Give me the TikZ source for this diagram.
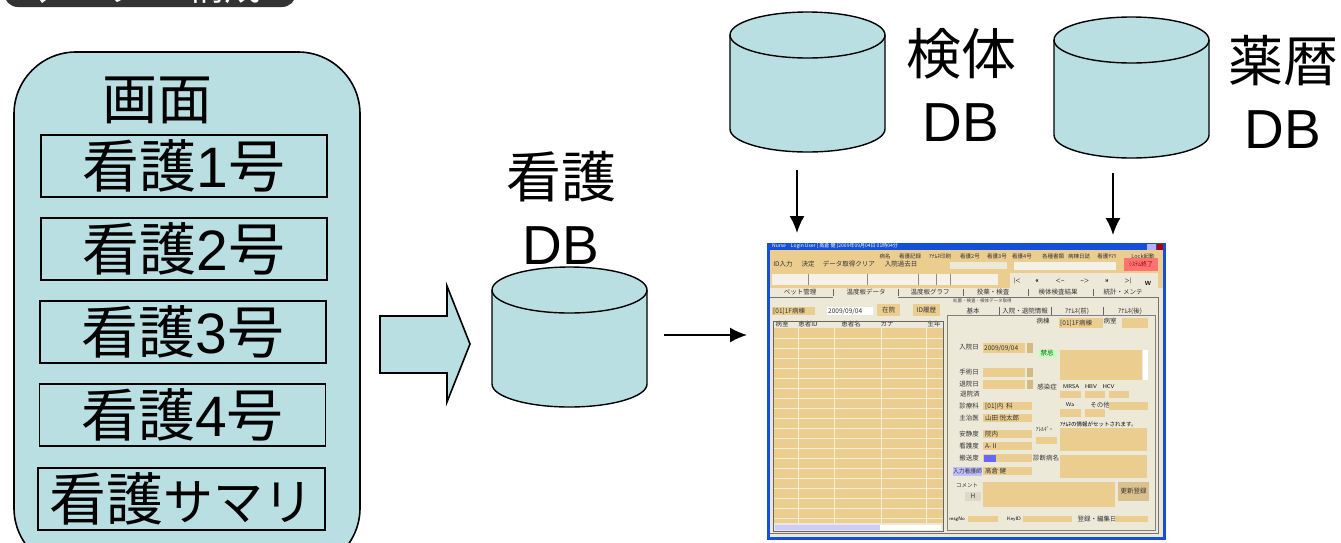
\documentclass[tikz,border=0pt]{standalone}
\usepackage{fontspec}
\usetikzlibrary{arrows.meta}
\setmainfont{Liberation Sans}
\newfontfamily\cjk{Noto Sans CJK JP}
\definecolor{fillc}{HTML}{B9DFE3}
\definecolor{tanc}{HTML}{EBCD90}
\definecolor{panel}{HTML}{ECE9D8}
\definecolor{xpblue}{HTML}{1450D8}
\newcommand{\K}[1]{{\cjk #1}}
\tikzset{
 lbl/.style={font=\fontsize{55}{67}\selectfont,inner sep=0pt,anchor=center,align=center},
 scr/.style={draw=black,line width=1.6pt,fill=fillc,inner sep=0pt,font=\fontsize{57}{60}\selectfont,text height=42pt,text depth=0pt},
 thinl/.style={draw=black,line width=1.4pt},
 arr/.style={draw=black,line width=1.8pt,-{Latex[length=17pt,width=15pt]}},
 tinyt/.style={font=\cjk\fontsize{6.5}{7}\selectfont,inner sep=0pt,text=black!80},
 tinye/.style={tinyt,anchor=east},
 tinyw/.style={tinyt,anchor=west},
}
\newcommand{\dbcyl}[5]{%
 \fill[fillc] (#2-#4,#3+23) arc[start angle=180,end angle=360,x radius=#4,y radius=23] -- (#2+#4,#5-23) arc[start angle=0,end angle=180,x radius=#4,y radius=23] -- cycle;
 \draw[thinl] (#2,#3+23) ellipse[x radius=#4,y radius=23];
 \draw[thinl] (#2-#4,#3+23) -- (#2-#4,#5-23) arc[start angle=180,end angle=0,x radius=#4,y radius=23] -- (#2+#4,#3+23);
}
\newcommand{\tb}[4]{\fill[tanc] (#1,#2) rectangle (#3,#4);}
\begin{document}
\begin{tikzpicture}[x=1pt,y=-1pt]
\useasboundingbox (0,0) rectangle (1341,542);
\begin{scope}
\clip (0,0) rectangle (1341,542);
% top pill with cut-off title
\fill[black!80,rounded corners=14pt] (4,-30) rectangle (296,7);
\node[font=\cjk\fontsize{37}{40}\selectfont,text=white,inner sep=0pt,anchor=base west] (title) at (187,0.5) {構成};
\fill[white] (40,0) -- (46,0) -- (42,3) -- cycle;
\fill[white] (115,0) -- (121,0) -- (117,2) -- cycle;
% big panel
\draw[fill=fillc,line width=1.6pt,rounded corners=62pt] (14,52) rectangle (360,570);
\end{scope}
\node[lbl,font=\cjk\fontsize{55}{60}\selectfont] (t0) at (157,100) {画面};
\node[scr,minimum width=286pt,minimum height=62pt] (n1) at (184,166) {\K{看護}1\K{号}};
\node[scr,minimum width=286pt,minimum height=62pt] (n2) at (184,249) {\K{看護}2\K{号}};
\node[scr,minimum width=286pt,minimum height=62pt] (n3) at (183,332) {\K{看護}3\K{号}};
\node[scr,minimum width=286pt,minimum height=62pt] (n4) at (182.5,415) {\K{看護}4\K{号}};
\node[scr,minimum width=287pt,minimum height=62pt] (n5) at (181.5,499) {\K{看護{\fontsize{50}{50}\selectfont サマリ}}};
% block arrow
\draw[fill=fillc,line width=1.6pt,line join=miter] (380,316) -- (447,316) -- (447,286) -- (470,344) -- (447,402) -- (447,373) -- (380,373) -- cycle;
% DBs
\dbcyl{dbk}{569.5}{267}{77.5}{407}
\dbcyl{dbs}{807.5}{12}{77.5}{152}
\dbcyl{dby}{1131.5}{17}{77.5}{158}
\node[lbl] (lk) at (561,208) {\K{看護}\\DB};
\node[lbl] (ls) at (961,85) {\K{検体}\\DB};
\node[lbl] (ly) at (1283,92) {\K{薬暦}\\DB};
% ---- screenshot ----
\fill[xpblue] (767,243) rectangle (1166,540);
\fill[panel] (770,250) rectangle (1163,537);
\node[font=\cjk\fontsize{5}{6}\selectfont,text=white,inner sep=0pt,anchor=west] (tb) at (772,246.5) {Nurse\quad Login User [ 高倉 健 ]2009年09月04日 01時04分};
\fill[white!70!blue] (1147,244) rectangle (1156,250);
\fill[red!70!black] (1157,244) rectangle (1163,250);
\tb{770}{250}{1163}{288}
\fill[panel] (1010,273) rectangle (1158,288);
\foreach \x/\t in {783/ID入力,808/決定,839/データ取得,865/クリア,901/入院過去日}
  \node[tinyt] at (\x,264) {\t};
\foreach \x/\t in {885/病名,910/看護記録,940/ｱﾅﾑﾈ印刷,970/看護2号,997/看護3号,1022/看護4号,1053/各種書類,1079/病棟日誌,1107/看護ｻﾏﾘ,1143/Lock起動}
  \node[tinyt,font=\cjk\fontsize{5.5}{6}\selectfont] at (\x,256) {\t};
\fill[panel] (950,262) rectangle (1007,269);
\fill[panel!60!white] (1014,262) rectangle (1116,270);
\fill[red!55!white] (1124,258) rectangle (1158,271);
\node[font=\cjk\fontsize{6}{7}\selectfont,text=red!60!black,inner sep=0pt] (sys) at (1141,264.5) {ｼｽﾃﾑ終了};
\fill[panel!60!white] (772,274) rectangle (998,285);
\foreach \x in {808,867,918,936,950} \draw[black!45,line width=.4pt] (\x,274) -- (\x,285);
\foreach \x/\t in {1017/{|<},1037/{<<},1060/{<--},1085/{-->},1107/{>>},1128/{>|}}
  \node[font=\sffamily\bfseries\fontsize{6}{7}\selectfont,inner sep=0pt] at (\x,281) {\t};
\node[font=\sffamily\bfseries\fontsize{6}{7}\selectfont,inner sep=0pt] at (1148,283) {W};
% tabs
\foreach \x/\t in {800/ベット管理,866/温度板データ,930/温度板グラフ,993/投薬・検査,1058/検体検査結果,1123/統計・メンテ}
  \node[tinyt] at (\x,292) {\t};
\foreach \x in {833,898,963,1028,1093} \draw[black!60,line width=.6pt] (\x,289) -- (\x,296);
\draw[black!55,line width=.6pt] (770,297) -- (833,297) (898,297) -- (1158,297) (1158,297) -- (1158,533) -- (770,533);
% list controls
\tb{772}{307}{815}{315}
\node[tinyw] (ward) at (773,311) {[01]1F病棟};
\fill[white] (827,307) rectangle (873,315);
\node[tinyw] (date) at (828,311) {2009/09/04};
\tb{877}{304}{900}{316}
\node[tinyt] (zai) at (888.5,310) {在院};
\tb{913}{304}{940}{316}
\node[tinyt] (idr) at (926.5,310) {ID履歴};
% list
\fill[panel] (773,321) rectangle (943,328);
\tb{773}{328}{943}{523}
\foreach \x/\t in {782/病室,808/患者ID,851/患者名,887/カナ,934/生年}
  \node[tinyt] at (\x,324.5) {\t};
\foreach \y in {338,348,...,520} \draw[white!65!tanc,line width=.5pt] (773,\y) -- (943,\y);
\foreach \x in {798,834,881,926} \draw[white!65!tanc,line width=.5pt] (\x,328) -- (\x,523);
\draw[black!60,line width=.5pt] (773,321) rectangle (943,531);
\fill[blue!20] (775,525) rectangle (880,530);
\fill[white] (880,525) rectangle (941,530);
% right panel
\draw[black!50,line width=.5pt] (947,315) rectangle (1155,530);
\foreach \x/\t in {973/基本,1025/入院・退院情報,1077/ｱﾅﾑﾈ(前),1130/ｱﾅﾑﾈ(後)}
  \node[tinyt] at (\x,311) {\t};
\foreach \x in {999,1051,1103} \draw[black!60,line width=.5pt] (\x,307) -- (\x,315);
\node[font=\cjk\fontsize{4.5}{5}\selectfont,inner sep=0pt,anchor=west,text=black!70] (chk) at (953,301) {処置・検査・検体データ取得};
% right fields
\node[tinyt] at (1043,321) {病棟};
\tb{1059}{318}{1103}{328}
\node[tinyw] at (1060,323) {[01]1F病棟};
\node[tinyt] at (1110,321) {病室};
\tb{1122}{318}{1148}{328}
\node[tinye] at (979,347) {入院日};
\tb{983}{343}{1025}{353}
\node[tinyw] at (984,348) {2009/09/04};
\fill[green!25] (1038,350) rectangle (1057,357);
\node[tinyt,text=green!40!black] at (1047,353.5) {禁忌};
\tb{1060}{350}{1142}{380}
\fill[white] (1143,350) rectangle (1148,380);
\foreach \y/\t in {372/手術日,384/退院日} { \node[tinye] at (979,\y) {\t}; \tb{983}{\y-4}{1025}{\y+5}; \fill[tanc!90!black] (1027,\y-4) rectangle (1033,\y+5); }
\fill[tanc!90!black] (1027,343) rectangle (1033,353);
\node[tinyt] at (1047,387) {感染症};
\node[font=\sffamily\fontsize{5.5}{6}\selectfont,inner sep=0pt,anchor=west] at (1063,387) {MRSA\ \ \ HBV\ \ \ HCV};
\foreach \x/\w in {1060/21,1085/20,1109/20} \fill[tanc] (\x,391) rectangle (\x+\w,398);
\node[tinyw] at (960,394) {退院済};
\foreach \y/\t/\v in {406/診療科/[01]内\ \ 科,418/主治医/山田 悦太郎,434/安静度/院内,446/看護度/A-Ⅱ,458/搬送度/\ } {
  \node[tinye] at (979,\y) {\t}; \tb{983}{\y-4}{1032}{\y+4}; \node[tinyw] at (985,\y) {\v}; }
\fill[blue!60] (984,455) rectangle (996,462);
\fill[blue!25] (953,467) rectangle (982,476);
\node[tinyt,font=\cjk\fontsize{5.8}{6}\selectfont] at (967.5,471) {入力看護師};
\tb{983}{467}{1032}{475}
\node[tinyw] at (985,471) {高倉 健};
\node[font=\sffamily\fontsize{5.5}{6}\selectfont,inner sep=0pt] at (1070,405) {Wa};
\node[tinyt] at (1100,405) {その他};
\foreach \x/\w in {1060/21,1085/20} \fill[tanc] (\x,409) rectangle (\x+\w,417);
\tb{1109}{402}{1148}{410}
\node[font=\cjk\fontsize{5.5}{6}\selectfont,inner sep=0pt,anchor=west] at (1060,424) {ｱﾅﾑﾈの情報がセットされます。};
\tb{1060}{428}{1147}{451}
\node[tinyt,font=\cjk\fontsize{5.5}{6}\selectfont] at (1044,429) {ｱﾚﾙｷﾞｰ};
\tb{1036}{437}{1057}{444}
\node[tinyt] at (1046,458) {診断病名};
\tb{1060}{455}{1147}{478}
\node[tinyt,font=\cjk\fontsize{5.5}{6}\selectfont] at (967,485) {コメント};
\fill[panel!85!gray] (965,492) rectangle (981,501);
\node[tinyt] at (973,496.5) {H};
\tb{983}{482}{1115}{507}
\fill[tanc!85!gray] (1118,482) rectangle (1149,501);
\node[tinyt] at (1133.5,491.5) {更新登録};
\node[font=\sffamily\fontsize{5}{6}\selectfont,inner sep=0pt] at (957,519) {msgNo};
\tb{968}{516}{998}{522}
\node[font=\sffamily\fontsize{5}{6}\selectfont,inner sep=0pt] at (1014,519) {KeyID};
\tb{1023}{516}{1072}{522}
\node[tinyt] at (1097,519) {登録・編集日};
\tb{1115}{516}{1148}{522}
% connectors
\coordinate (shot) at (747,335);
\coordinate (shotS) at (797,233);
\coordinate (shotY) at (1113,235);
\coordinate (kStart) at (664,335);
\coordinate (sStart) at (797,170);
\coordinate (yStart) at (1113,173);
\draw[arr] (kStart) -- (shot);
\draw[arr] (sStart) -- (shotS);
\draw[arr] (yStart) -- (shotY);
\end{tikzpicture}
\end{document}
